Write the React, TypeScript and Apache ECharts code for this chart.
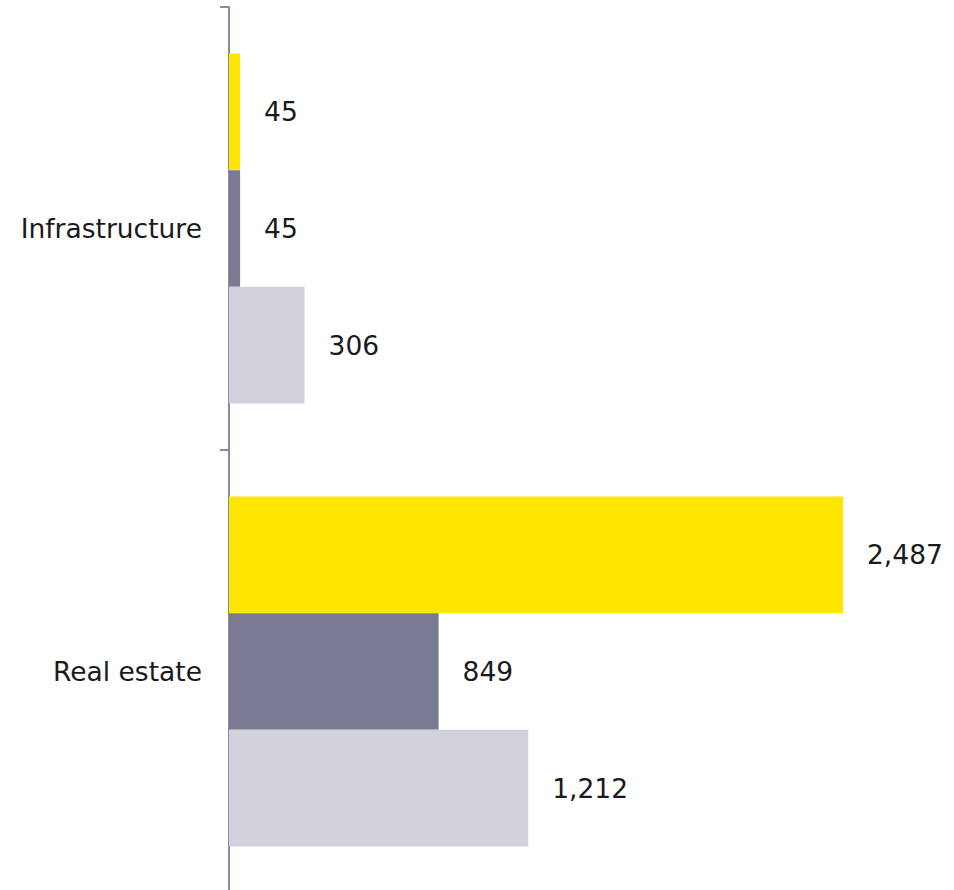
import React, { useEffect, useRef } from "react";
import * as echarts from "echarts";

const categories = ["Infrastructure", "Real estate"];
const seriesA = [45, 2487];
const seriesB = [45, 849];
const seriesC = [306, 1212];
const colors = ["#FFE600", "#7A7A92", "#D2D2DC"];

const FONT = "DejaVu Sans";

export default function App() {
  const ref = useRef<HTMLDivElement>(null);
  useEffect(() => {
    const chart = echarts.init(ref.current!, null, { renderer: "svg" });
    const label = {
      show: true,
      position: "right",
      distance: 24,
      color: "#1a1a1a",
      fontFamily: FONT,
      fontSize: 26.5,
      formatter: (p: any) => Number(p.value).toLocaleString("en-US"),
    };
    const mk = (data: number[], i: number) => ({
      type: "bar",
      data,
      barGap: "0%",
      barCategoryGap: "21%",
      itemStyle: { color: colors[i] },
      label,
    });
    chart.setOption({
      animation: false,
      grid: {
        left: 229,
        top: 7,
        width: 614,
        height: 886,
        containLabel: false,
        outerBoundsMode: "none",
      },
      xAxis: {
        type: "value",
        min: 0,
        max: 2487,
        show: false,
      },
      yAxis: {
        type: "category",
        data: categories,
        inverse: true,
        axisLine: { show: true, lineStyle: { color: "#8A8AA2", width: 2 } },
        axisTick: { show: true, length: 9, lineStyle: { color: "#8A8AA2", width: 2 } },
        axisLabel: { margin: 27, color: "#1a1a1a", fontFamily: FONT, fontSize: 26.5 },
        splitLine: { show: false },
      },
      series: [mk(seriesA, 0), mk(seriesB, 1), mk(seriesC, 2)],
    });
    return () => chart.dispose();
  }, []);
  return <div ref={ref} style={{ width: 954, height: 890, position: "absolute", left: 0, top: 0 }} />;
}
